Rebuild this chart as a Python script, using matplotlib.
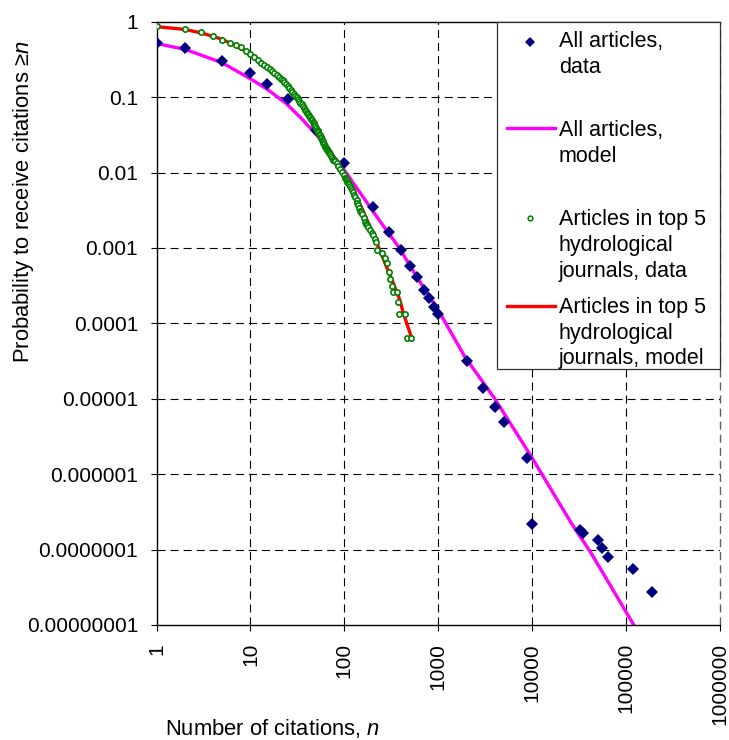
import matplotlib
matplotlib.use("Agg")
import matplotlib.pyplot as plt
from matplotlib.lines import Line2D
from matplotlib.patches import Rectangle
from matplotlib.ticker import FixedLocator, FixedFormatter, NullLocator

plt.rcParams['font.family'] = ['Liberation Sans', 'DejaVu Sans']
plt.rcParams['mathtext.fontset'] = 'custom'
plt.rcParams['mathtext.rm'] = 'Liberation Sans'
plt.rcParams['mathtext.it'] = 'Liberation Sans:italic'
plt.rcParams['lines.scale_dashes'] = False

# ---------------- data ----------------
all_n = [1, 2, 5, 10, 15, 25, 50, 100, 200, 300, 400, 500, 600, 700, 800, 900, 1000,
         2000, 3000, 4000, 5000, 8900, 10000, 32000, 35000, 50000, 56000, 64000,
         118000, 188000]
all_p = [0.517, 0.444, 0.304, 0.207, 0.149, 0.0935, 0.0366, 0.0132, 0.00352, 0.00164,
         0.00094, 0.00058, 0.00041, 0.000277, 0.000215, 0.000166, 0.000135,
         3.16e-5, 1.37e-5, 7.8e-6, 4.86e-6, 1.65e-6, 2.18e-7, 1.81e-7, 1.64e-7,
         1.36e-7, 1.06e-7, 8.0e-8, 5.46e-8, 2.73e-8]

all_model_n = [1, 2, 3, 5, 10, 15, 24, 35, 49, 73, 103, 167, 250, 377, 600, 1000,
               1920, 4000, 9770, 26000, 42400, 117000, 140000]
all_model_p = [0.514, 0.43, 0.36, 0.285, 0.175, 0.128, 0.0825, 0.052, 0.033, 0.018,
               0.0102, 0.0043, 0.0021, 0.00104, 0.0004, 0.00015, 3.6e-5, 1.0e-5,
               1.72e-6, 2.26e-7, 9.0e-8, 1.07e-8, 7.3e-9]

hyd_n = [1, 2, 3, 4, 5, 6, 7, 8, 9, 10, 11, 12, 13, 14, 15, 16, 17, 18, 19, 20,
         21, 22, 23, 24, 25, 26, 27, 28, 29, 30, 31, 32, 33, 34, 35, 36, 37, 38, 39, 40,
         41, 42, 43, 44, 45, 46, 47, 48, 49, 50, 51, 52, 53, 54, 55, 56, 57, 58, 59, 60,
         61, 62, 63, 64, 65, 66, 67, 68, 69, 70, 72, 74, 76, 78, 80, 83, 86, 90, 94, 98,
         102, 104, 106, 108, 110, 112, 115, 117, 120, 124, 127, 130, 135, 138, 141, 144,
         147, 151, 155, 160, 166, 170, 174, 180, 187, 195, 204, 210, 218, 221,
         250, 271, 287, 302, 307, 320, 333, 361, 372, 385, 443, 462, 513]
hyd_p = [0.88, 0.79, 0.72, 0.65, 0.58, 0.524, 0.49, 0.455, 0.41, 0.375, 0.345, 0.313,
         0.285, 0.268, 0.25, 0.236, 0.222, 0.208, 0.196, 0.186, 0.176, 0.167, 0.157,
         0.148, 0.14, 0.131, 0.124, 0.117, 0.11, 0.105, 0.1, 0.095, 0.089, 0.084, 0.08,
         0.076, 0.072, 0.068, 0.065, 0.062, 0.059, 0.057, 0.054, 0.051, 0.049, 0.047,
         0.045, 0.043, 0.041, 0.039, 0.037, 0.0355, 0.034, 0.0325, 0.031, 0.0298,
         0.0286, 0.0272, 0.026, 0.0245, 0.0236, 0.0228, 0.022, 0.0212, 0.0205, 0.0198,
         0.0192, 0.0186, 0.018, 0.0178, 0.0166, 0.0157, 0.0148, 0.0145, 0.0142, 0.0132,
         0.0122, 0.0112, 0.0102, 0.0092,
         0.0085, 0.0082, 0.0079, 0.0076, 0.0073, 0.0070, 0.0066, 0.0063, 0.0059, 0.0055,
         0.0051, 0.0048, 0.0043, 0.0040, 0.0037, 0.0034, 0.0031, 0.0030, 0.0028, 0.0025,
         0.0022, 0.0021, 0.0020, 0.0019, 0.00175, 0.0016, 0.00148, 0.0013, 0.00121,
         0.00094, 0.00085, 0.00073, 0.00063, 0.00048, 0.00039, 0.00031, 0.00026,
         0.00026, 0.00019, 0.000132, 0.000132, 0.000064, 0.000064]

hyd_model_n = [1, 2, 3, 5, 10, 20, 30, 50, 70, 100, 150, 200, 271, 330, 392, 425, 481, 513]
hyd_model_p = [0.86, 0.79, 0.71, 0.585, 0.38, 0.185, 0.105, 0.039, 0.019, 0.0095,
               0.0036, 0.0016, 0.00063, 0.00035, 0.0002, 0.000136, 0.000086, 0.000068]

x_ticks = [1, 10, 100, 1000, 10000, 100000, 1000000]
x_tick_labels = ['1', '10', '100', '1000', '10000', '100000', '1000000']
y_ticks = [1e-8, 1e-7, 1e-6, 1e-5, 1e-4, 1e-3, 1e-2, 1e-1, 1]
y_tick_labels = ['0.00000001', '0.0000001', '0.000001', '0.00001', '0.0001',
                 '0.001', '0.01', '0.1', '1']

legend_labels = [["All articles,", "data"],
                 ["All articles,", "model"],
                 ["Articles in top 5", "hydrological", "journals, data"],
                 ["Articles in top 5", "hydrological", "journals, model"]]

# ---------------- figure ----------------
W, H = 729, 740
fig = plt.figure(figsize=(W / 100, H / 100), dpi=100)
fig.patch.set_facecolor('white')

def fx(px):
    return px / W

def fy(py):
    return 1 - py / H

L, R, T, B = 156.5, 720, 21.7, 625
ax = fig.add_axes([fx(L), fy(B), (R - L) / W, (B - T) / H])
ax.set_xscale('log')
ax.set_yscale('log')
ax.set_xlim(1, 1e6)
ax.set_ylim(1e-8, 1)

DASH = (0, (5.8, 3.6))
for xv in x_ticks[1:-1]:
    ax.axvline(xv, color='black', lw=0.8, ls=DASH, zorder=1)
ax.axvline(x_ticks[-1], color='#606060', lw=1.0, ls=DASH, zorder=1, clip_on=False)
for yv in y_ticks[1:-1]:
    ax.axhline(yv, color='black', lw=0.8, ls=DASH, zorder=1)

ax.plot(all_model_n, all_model_p, color='#FF00FF', lw=2.4, zorder=2)
ax.plot(all_n, all_p, ls='none', marker='D', ms=6.6, color='#000080', mew=0, zorder=3)
ax.plot(hyd_model_n, hyd_model_p, color='#FF0000', lw=2.4, zorder=4)
ax.plot(hyd_n, hyd_p, ls='none', marker='o', ms=3.8, mfc='white', mec='#008000',
        mew=1.2, zorder=5)

ax.spines['right'].set_visible(False)
for s in ['left', 'bottom', 'top']:
    ax.spines[s].set_color('black')
    ax.spines[s].set_linewidth(1.0)

ax.xaxis.set_major_locator(FixedLocator(x_ticks))
ax.xaxis.set_major_formatter(FixedFormatter(x_tick_labels))
ax.yaxis.set_major_locator(FixedLocator(y_ticks))
ax.yaxis.set_major_formatter(FixedFormatter(y_tick_labels))
ax.xaxis.set_minor_locator(NullLocator())
ax.yaxis.set_minor_locator(NullLocator())
ax.tick_params(axis='x', direction='out', length=4.3, width=0.8, labelsize=15,
               pad=8.6, labelrotation=90)
ax.tick_params(axis='y', direction='out', length=4.3, width=0.8, labelsize=15, pad=9)

fig.text(fx(24), fy(202), r"Probability to receive citations ≥$n$", rotation=90,
         ha='center', va='center', fontsize=15.8)
fig.text(fx(165), fy(728), r"Number of citations, $n$", ha='left', va='center',
         fontsize=15.8)

# ---------------- legend ----------------
lx0, ly0, lx1, ly1 = 497, 21.7, 720, 369
fig.add_artist(Rectangle((fx(lx0), fy(ly1)), (lx1 - lx0) / W, (ly1 - ly0) / H,
                         transform=fig.transFigure, facecolor='white',
                         edgecolor='#303030', lw=0.9, zorder=10))
line_y = [[39, 65], [128, 154], [217, 243, 269], [305, 331, 356]]
handle_y = [41.7, 128.3, 218.3, 306]
fig.add_artist(Line2D([fx(530)], [fy(handle_y[0])], transform=fig.transFigure,
                      ls='none', marker='D', ms=4.8, color='#000080', mew=0, zorder=11))
fig.add_artist(Line2D([fx(507), fx(555)], [fy(handle_y[1])] * 2,
                      transform=fig.transFigure, color='#FF00FF', lw=2.4, zorder=11))
fig.add_artist(Line2D([fx(530)], [fy(handle_y[2])], transform=fig.transFigure,
                      ls='none', marker='o', ms=3.4, mfc='white', mec='#008000',
                      mew=1.1, zorder=11))
fig.add_artist(Line2D([fx(507), fx(555)], [fy(handle_y[3])] * 2,
                      transform=fig.transFigure, color='#FF0000', lw=2.4, zorder=11))
for labels, ys in zip(legend_labels, line_y):
    for txt, yy in zip(labels, ys):
        fig.text(fx(559), fy(yy + 7.6), txt, ha='left', va='baseline',
                 fontsize=15.5, zorder=12)

fig.savefig('out.png', dpi=100, facecolor='white')
